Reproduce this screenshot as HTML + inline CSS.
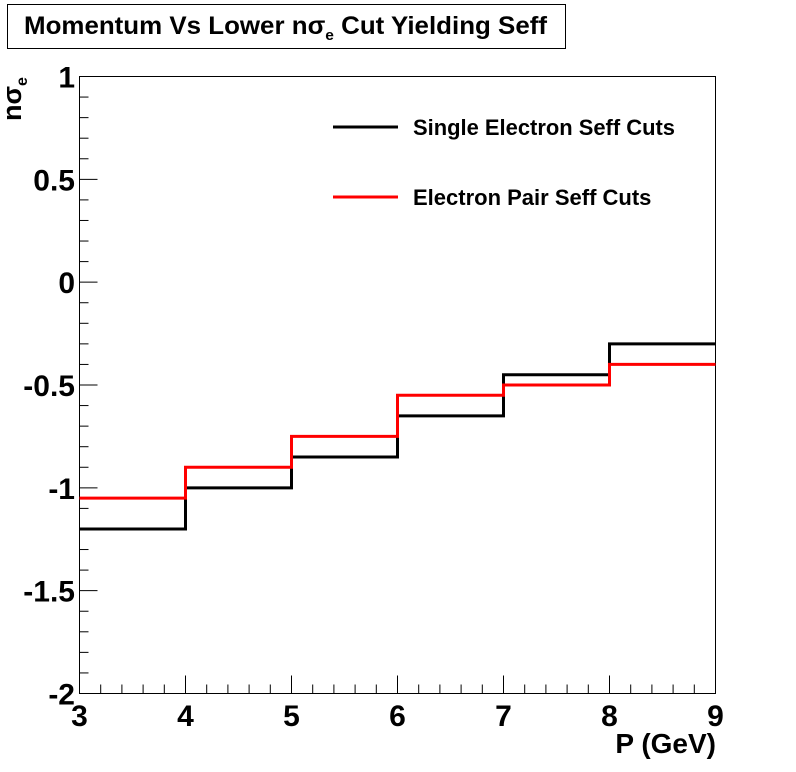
<!DOCTYPE html>
<html><head><meta charset="utf-8"><style>
body{margin:0;background:#fff;}
svg{display:block;font-family:"Liberation Sans",sans-serif;font-weight:bold;}
</style></head><body>
<svg id="chart" width="796" height="772" viewBox="0 0 796 772" xmlns="http://www.w3.org/2000/svg">
<rect x="7.5" y="4.5" width="558" height="44" fill="#fff" stroke="#000" stroke-width="1"/>
<text x="24" y="34" font-size="25" textLength="523" lengthAdjust="spacingAndGlyphs">Momentum Vs Lower n<tspan>σ</tspan><tspan font-size="15" dy="6">e</tspan><tspan dy="-6"> Cut Yielding Seff</tspan></text>
<rect x="79.5" y="76.5" width="636" height="617" fill="none" stroke="#000" stroke-width="1"/>
<g id="axes"></g>
<g id="series"></g>
<text transform="translate(21,121) rotate(-90)" font-size="27">nσ<tspan font-size="16" dy="6">e</tspan></text>
<text x="716" y="753" font-size="28" text-anchor="end">P (GeV)</text>
<g>
<line x1="333" y1="127" x2="398" y2="127" stroke="#000" stroke-width="3"/>
<text x="413" y="135" font-size="22" textLength="262" lengthAdjust="spacingAndGlyphs">Single Electron Seff Cuts</text>
<line x1="333" y1="197" x2="398" y2="197" stroke="#f00" stroke-width="3"/>
<text x="413" y="205" font-size="22">Electron Pair Seff Cuts</text>
</g>
</svg>
<script>
const binEdges=[3,4,5,6,7,8,9];
const singleValues=[-1.2,-1.0,-0.85,-0.65,-0.45,-0.3];
const pairValues=[-1.05,-0.9,-0.75,-0.55,-0.5,-0.4];
const xTickLabels=["3","4","5","6","7","8","9"];
const yTickValues=[-2,-1.5,-1,-0.5,0,0.5,1];
const yTickLabels=["-2","-1.5","-1","-0.5","0","0.5","1"];
const NS="http://www.w3.org/2000/svg";
const X0=79.5,X1=715.5,Y0=693.5,Y1=76.5;
function xs(v){return X0+(v-3)/6*(X1-X0);}
function ys(v){return Y0-(v+2)/3*(Y0-Y1);}
function mk(tag,attrs,parent){const e=document.createElementNS(NS,tag);for(const k in attrs)e.setAttribute(k,attrs[k]);parent.appendChild(e);return e;}
const axes=document.getElementById('axes');
for(let i=0;i<=30;i++){
  const v=3+i*0.2;const major=i%5===0;
  const t=mk('line',{x1:xs(v),x2:xs(v),y1:Y0,y2:Y0-(major?18:9),stroke:'#000','stroke-width':1},axes);
  
  
}
xTickLabels.forEach((l,i)=>{
  const t=mk('text',{x:xs(binEdges[i]),y:726,'font-size':30,'text-anchor':'middle'},axes);
  t.textContent=l;
  
  
});
for(let i=0;i<=30;i++){
  const v=-2+i*0.1;const major=i%5===0;
  const t=mk('line',{x1:X0,x2:X0+(major?18:9),y1:ys(v),y2:ys(v),stroke:'#000','stroke-width':1},axes);
  
  
}
yTickValues.forEach((v,i)=>{
  const t=mk('text',{x:75,y:ys(v)+11,'font-size':30,'text-anchor':'end'},axes);
  t.textContent=yTickLabels[i];
  
  
});
const series=document.getElementById('series');
function step(vals,color,name){
  let d='';
  vals.forEach((v,i)=>{
    d+=(i===0?'M':'L')+xs(binEdges[i])+','+ys(v)+'L'+xs(binEdges[i+1])+','+ys(v);
  });
  const p=mk('path',{d:d,fill:'none',stroke:color,'stroke-width':3},series);
  
  
}
step(singleValues,'#000','single-electron-line');
step(pairValues,'#f00','electron-pair-line');
</script>
</body></html>
